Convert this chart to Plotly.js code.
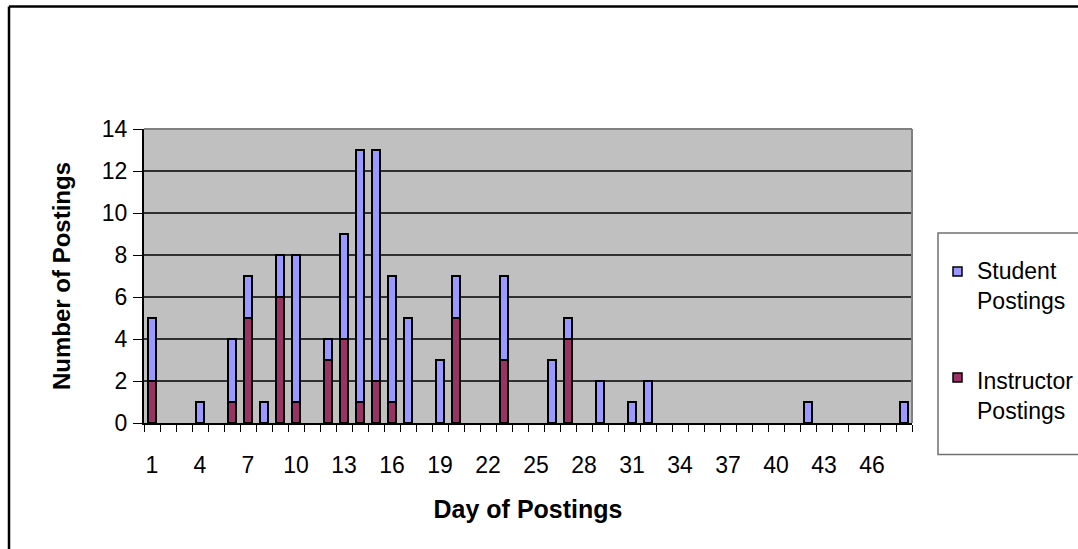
<!DOCTYPE html>
<html>
<head>
<meta charset="utf-8">
<script src="https://cdn.plot.ly/plotly-3.0.1.min.js"></script>
<style>
html,body{margin:0;padding:0;background:#fff;}
#chart{width:1078px;height:549px;}
</style>
</head>
<body>
<div id="chart"></div>
<script>
// Data
const studentDays    = [1, 4, 6, 7, 8, 9, 10, 12, 13, 14, 15, 16, 17, 19, 20, 23, 26, 27, 29, 31, 32, 42, 48];
const studentValues  = [3, 1, 3, 2, 1, 2, 7, 1, 5, 12, 11, 6, 5, 3, 2, 4, 3, 1, 2, 1, 2, 1, 1];
const instructorDays   = [1, 6, 7, 9, 10, 12, 13, 14, 15, 16, 20, 23, 27];
const instructorValues = [2, 1, 5, 6, 1, 3, 4, 1, 2, 1, 5, 3, 4];
const xTickValues = [1, 4, 7, 10, 13, 16, 19, 22, 25, 28, 31, 34, 37, 40, 43, 46];
const xTickLabels = ["1", "4", "7", "10", "13", "16", "19", "22", "25", "28", "31", "34", "37", "40", "43", "46"];
const seriesNames = ["Instructor Postings", "Student Postings"];

const FONT = "Arial, 'Liberation Sans', sans-serif";

const traces = [
  {
    type: "bar", name: seriesNames[0], x: instructorDays, y: instructorValues,
    width: 0.5,
    marker: {color: "#993366", line: {color: "#000000", width: 1.5}},
    showlegend: false, hoverinfo: "x+y+name"
  },
  {
    type: "bar", name: seriesNames[1], x: studentDays, y: studentValues,
    width: 0.5,
    marker: {color: "#9999FF", line: {color: "#000000", width: 1.5}},
    showlegend: false, hoverinfo: "x+y+name"
  }
];

// plot area: x 144..912 px, y 129..423 px
const px = v => (v - 144) / 768;
const py = v => (423 - v) / 294;

const layout = {
  width: 1078, height: 549,
  margin: {l: 144, r: 166, t: 129, b: 126, pad: 0},
  paper_bgcolor: "#ffffff",
  plot_bgcolor: "#C0C0C0",
  barmode: "stack",
  showlegend: false,
  font: {family: FONT, size: 23, color: "#000000"},
  xaxis: {
    range: [0.5, 48.5],
    tickmode: "array", tickvals: xTickValues, ticktext: xTickLabels,
    ticks: "outside", ticklen: 7, tickcolor: "rgba(0,0,0,0)",
    ticklabelstandoff: 13,
    tickfont: {family: FONT, size: 23, color: "#000"},
    minor: {tickmode: "linear", tick0: 0.5, dtick: 1, ticks: "outside", ticklen: 7, tickwidth: 1, tickcolor: "#000", showgrid: false},
    showgrid: false, zeroline: false,
    showline: true, linecolor: "#000", linewidth: 2,
    title: {text: "Day of Postings", font: {family: FONT, size: 25, color: "#000", weight: "bold"}, standoff: 24},
    fixedrange: true
  },
  yaxis: {
    range: [0, 14], tickmode: "linear", tick0: 0, dtick: 2,
    ticks: "outside", ticklen: 9, tickwidth: 1, tickcolor: "#000",
    ticklabelstandoff: 1,
    tickfont: {family: FONT, size: 23, color: "#000"},
    showgrid: true, gridcolor: "#303030", gridwidth: 1.3,
    zeroline: false,
    showline: true, linecolor: "#000", linewidth: 2,
    title: {text: "Number of Postings", font: {family: FONT, size: 24, color: "#000", weight: "bold"}, standoff: 24},
    fixedrange: true
  },
  shapes: [
    // plot area border (top and right, grey)
    {type: "line", xref: "paper", yref: "paper", x0: 0, x1: 1, y0: 1, y1: 1, line: {color: "#808080", width: 2}},
    {type: "line", xref: "paper", yref: "paper", x0: 1, x1: 1, y0: 0, y1: 1, line: {color: "#808080", width: 2}},
    // chart outer border (left and top visible)
    {type: "line", xref: "paper", yref: "paper", x0: px(9), x1: px(9), y0: py(6.5), y1: py(560), line: {color: "#000", width: 2.5}},
    {type: "line", xref: "paper", yref: "paper", x0: px(9), x1: px(1090), y0: py(6.5), y1: py(6.5), line: {color: "#000", width: 2.5}},
    // legend box
    {type: "rect", xref: "paper", yref: "paper", x0: px(938), x1: px(1095), y0: py(233), y1: py(454.5), line: {color: "#707070", width: 1.5}, fillcolor: "#ffffff", opacity: 1},
    // legend symbols
    {type: "rect", xref: "paper", yref: "paper", x0: px(953), x1: px(962), y0: py(267), y1: py(276), line: {color: "#000", width: 1.5}, fillcolor: "#9999FF", opacity: 1},
    {type: "rect", xref: "paper", yref: "paper", x0: px(953), x1: px(962), y0: py(373), y1: py(382), line: {color: "#000", width: 1.5}, fillcolor: "#993366", opacity: 1}
  ],
  annotations: [
    {xref: "paper", yref: "paper", x: px(975), y: py(286), xanchor: "left", yanchor: "middle", align: "left", showarrow: false,
     text: "Student<br>Postings", font: {family: FONT, size: 23, color: "#000"}},
    {xref: "paper", yref: "paper", x: px(975), y: py(396), xanchor: "left", yanchor: "middle", align: "left", showarrow: false,
     text: "Instructor<br>Postings", font: {family: FONT, size: 23, color: "#000"}}
  ]
};

Plotly.newPlot("chart", traces, layout, {displayModeBar: false, staticPlot: true});
</script>
</body>
</html>
